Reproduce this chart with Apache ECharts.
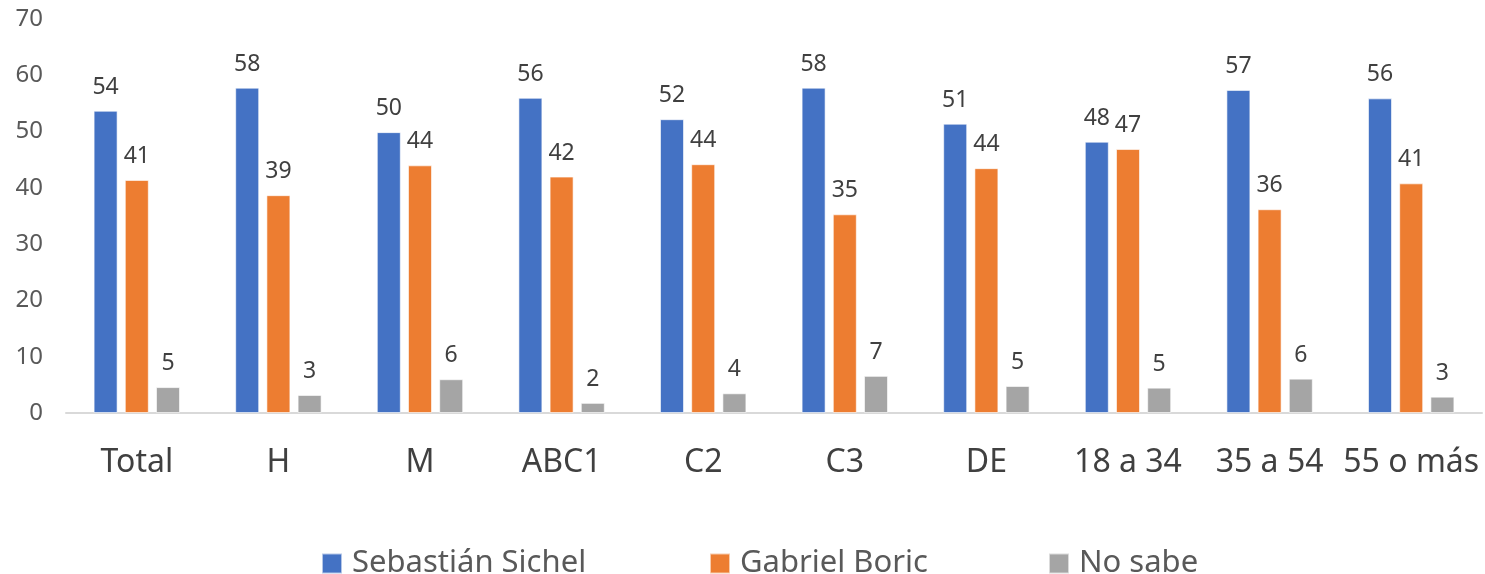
<!DOCTYPE html>
<html><head><meta charset="utf-8">
<script src="https://cdn.jsdelivr.net/npm/echarts@6/dist/echarts.min.js"></script>
<style>html,body{margin:0;padding:0;background:#fff}#c{width:1485px;height:574px}</style>
</head><body><div id="c"></div>
<script>
const categories = ['Total','H','M','ABC1','C2','C3','DE','18 a 34','35 a 54','55 o más'];
const sichel = [53.7,57.8,49.9,56.0,52.2,57.8,51.4,48.2,57.4,55.9];
const boric  = [41.4,38.7,44.0,42.0,44.2,35.3,43.5,46.9,36.2,40.8];
const noSabe = [4.6,3.2,6.0,1.8,3.5,6.6,4.8,4.5,6.1,2.9];
const yTicks = [0,10,20,30,40,50,60,70];
const seriesNames = ['Sebastián Sichel','Gabriel Boric','No sabe'];
const colors = ['#4472C4','#ED7D31','#A5A5A5'];
const FONT = '"Noto Sans", "Open Sans", sans-serif';

const chart = echarts.init(document.getElementById('c'));
const mk = (name, data, color) => ({
  name, type: 'bar', data,
  barWidth: 24, barGap: '30%',
  itemStyle: { color, borderColor: 'rgba(255,255,255,0.6)', borderWidth: 1 },
  label: { show: true, position: 'top', distance: 12, color: '#404040', fontSize: 23, fontFamily: FONT,
           formatter: p => Math.round(p.value) }
});
const legendLefts = [316, 704, 1043];
const legends = seriesNames.map((n, i) => ({
  data: [n], left: legendLefts[i], top: 543, itemWidth: 20, itemHeight: 20,
  icon: 'rect', selectedMode: false,
  textStyle: { fontSize: 31, color: '#595959', fontFamily: FONT, padding: [0, 0, 0, 5] }
}));
chart.setOption({
  backgroundColor: '#fff',
  animation: false,
  textStyle: { fontFamily: FONT },
  grid: { left: 66, right: 3, top: 19, bottom: 161, containLabel: false },
  legend: legends,
  xAxis: {
    type: 'category', data: categories,
    axisLine: { lineStyle: { color: '#D9D9D9', width: 2 } },
    axisTick: { show: false },
    axisLabel: { fontSize: 32, color: '#404040', margin: 34, fontFamily: FONT, interval: 0 }
  },
  yAxis: {
    type: 'value', min: yTicks[0], max: yTicks[yTicks.length - 1], interval: yTicks[1] - yTicks[0],
    splitLine: { show: false },
    axisLine: { show: false }, axisTick: { show: false },
    axisLabel: { fontSize: 24, color: '#595959', margin: 23, fontFamily: FONT }
  },
  series: [mk(seriesNames[0], sichel, colors[0]), mk(seriesNames[1], boric, colors[1]), mk(seriesNames[2], noSabe, colors[2])]
});
</script></body></html>
